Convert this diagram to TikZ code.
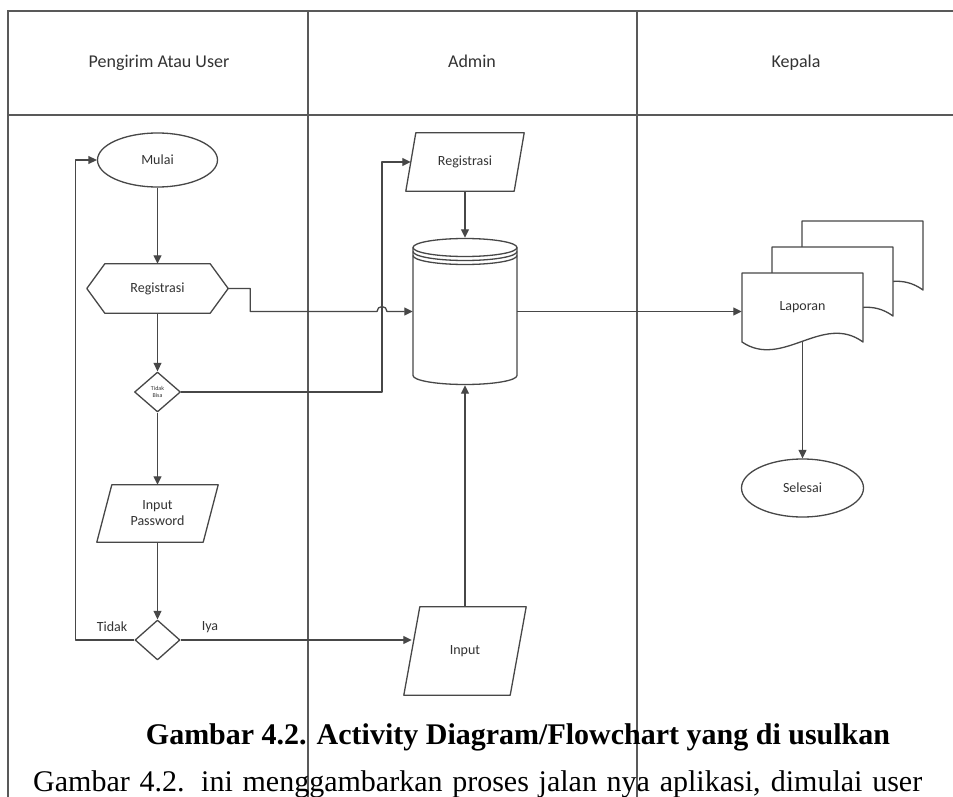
\documentclass[tikz,border=0pt]{standalone}
\usepackage{fontspec}
\setmainfont{Liberation Serif}
\newfontfamily\diag{Carlito}
\usetikzlibrary{arrows.meta,shapes.geometric,calc}

% slanted input/output box around a named node
\newcommand\drawpara[2]{%
  \draw[ln] ($(#1.north west)+(#2/2,0)$) -- ($(#1.north east)+(#2/2,0)$)
    -- ($(#1.south east)+(-#2/2,0)$) -- ($(#1.south west)+(-#2/2,0)$) -- cycle;}

\begin{document}
\begin{tikzpicture}[x=1pt,y=-1pt,
  ln/.style={draw=black!72, line width=1.3pt, line join=round},
  arr/.style={ln, -{Triangle[length=8.5pt,width=8pt]}},
  lane/.style={draw=black!65, line width=1.8pt},
  lbl/.style={font=\diag\fontsize{14}{16}\selectfont, text=black!80, align=center, inner sep=0pt},
  hdr/.style={font=\diag\fontsize{18}{21}\selectfont, text=black!80, anchor=base, inner sep=0pt},
  term/.style={lbl, ln, ellipse, minimum width=120pt, minimum height=54pt},
  frame/.style={lbl, draw=none, rectangle}
]
\useasboundingbox (0,0) rectangle (953,797);
\fill[white] (0,0) rectangle (953,797);

% swimlanes
\draw[lane] (953,11) -- (8,11) -- (8,797);
\draw[lane] (8,115) -- (953,115);
\draw[lane] (308,11) -- (308,797);
\draw[lane] (637,11) -- (637,797);

\node[hdr] (h1) at (159,68) {Pengirim Atau User};
\node[hdr] (h2) at (472,68) {Admin};
\node[hdr] (h3) at (796,68) {Kepala};

% ---- Pengirim Atau User ----
\node[term] (mulai) at (157.5,160) {Mulai};

\node[frame, minimum width=141pt, minimum height=49pt] (hex) at (157.5,288.5) {Registrasi};
\draw[ln] (hex.west) -- ($(hex.north west)+(18,0)$) -- ($(hex.north east)+(-18,0)$)
  -- (hex.east) -- ($(hex.south east)+(-18,0)$) -- ($(hex.south west)+(18,0)$) -- cycle;

\node[lbl, ln, diamond, minimum width=46pt, minimum height=40pt,
      font=\diag\fontsize{6}{6.5}\selectfont] (d1) at (157.5,392) {Tidak\\Bisa};

\node[frame, minimum width=106pt, minimum height=57pt] (inpw) at (157.5,513.5) {Input\\Password};
\drawpara{inpw}{15}

\node[ln, diamond, minimum width=45pt, minimum height=40pt, inner sep=0pt] (d2) at (157.5,640) {};
\node[lbl] (tidak) at (112,627) {Tidak};
\node[lbl] (iya) at (210,627) {Iya};

% ---- Admin ----
\node[frame, minimum width=108pt, minimum height=58pt] (regA) at (465,162) {Registrasi};
\drawpara{regA}{10}

\node[frame, minimum width=104pt, minimum height=147pt] (db) at (465,311.5) {};
\begin{scope}[shift={(db.center)}]
  \draw[ln] (-52,-64) -- (-52,64) arc[start angle=180, end angle=0, x radius=52, y radius=9] -- (52,-64);
  \draw[ln] (0,-64) ellipse[x radius=52, y radius=9];
  \draw[ln] (-52,-60) arc[start angle=180, end angle=0, x radius=52, y radius=9];
  \draw[ln] (-52,-56) arc[start angle=180, end angle=0, x radius=52, y radius=9];
\end{scope}

\node[frame, minimum width=106pt, minimum height=88pt] (inp) at (465,651) {Input};
\drawpara{inp}{16}

% ---- Kepala ----
\coordinate (lapc) at (802.5,307.5);
\begin{scope}[shift={(lapc)}]
  \foreach \dx/\dy in {60/-52, 30/-26, 0/0}
    \draw[ln, fill=white, shift={(\dx,\dy)}] (-60.5,-34.5) -- (60.5,-34.5) -- (60.5,34.5)
      .. controls (20,5) and (-20,62) .. (-60.5,34.5) -- cycle;
\end{scope}
\node[frame, minimum width=121pt, minimum height=69pt] (lap) at (lapc) {Laporan};
\coordinate (lapb) at ($(lapc)+(0,33.7)$);

\node[term, minimum width=122pt, minimum height=58pt] (sel) at (802.5,488) {Selesai};

% ---- connectors ----
\coordinate (jx) at (382,311.5);
\draw[arr] (mulai) -- (hex);
\draw[arr] (hex) -- (d1);
\draw[arr] (d1) -- (inpw);
\draw[arr] (inpw) -- (d2);
\draw[arr] (d2.west) -- ++(-59,0) |- (mulai.west);
\draw[arr] (d2.east) -- (d2.east -| inp.west);
\draw[arr] (d1.east) -| (jx) |- (regA.west);
\draw[arr] (hex.east) -- ++(22,0) |- ($(jx)+(-5,0)$)
  arc[start angle=180, end angle=360, radius=5] -- (db.west);
\draw[arr] (regA) -- (db);
\draw[arr] (inp) -- (db);
\draw[arr] (db.east) -- (db.east -| lap.west);
\draw[arr] (lapb) -- (sel);

% ---- caption text ----
\node[anchor=base, inner sep=0pt, font=\bfseries\fontsize{30}{36}\selectfont] (cap) at (518,744)
  {Gambar 4.2. Activity Diagram/Flowchart yang di usulkan};
\node[anchor=base west, inner sep=0pt, font=\fontsize{30}{36}\selectfont] (para) at (33,791)
  {\makebox[889pt][s]{Gambar 4.2. ini menggambarkan proses jalan nya aplikasi, dimulai user}};
\end{tikzpicture}
\end{document}
